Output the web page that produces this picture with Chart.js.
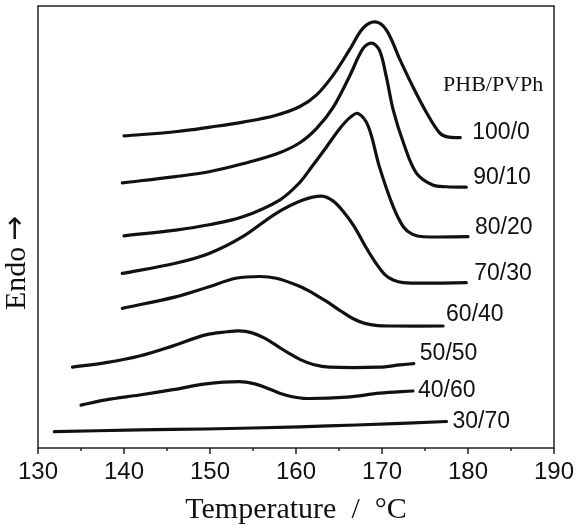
<!DOCTYPE html>
<html>
<head>
<meta charset="utf-8">
<script src="https://cdn.jsdelivr.net/npm/chart.js@4/dist/chart.umd.min.js"></script>
<style>
body { margin: 0; background: #fff; }
</style>
</head>
<body>
<canvas id="myChart" width="582" height="526"></canvas>
<script>
'use strict';

// DSC traces, temperature in degC, heat flow in arbitrary units (shifted)
var blends = ['100/0', '90/10', '80/20', '70/30', '60/40', '50/50', '40/60', '30/70'];

var t100 = [140.0, 146.2, 150.0, 154.0, 157.7, 160.4, 162.4, 164.3, 166.2, 167.8, 169.2, 170.5, 172.1, 173.6, 175.2, 176.7, 177.6, 179.1];
var v100 = [70.6, 71.6, 72.6, 73.8, 75.3, 77.2, 79.9, 84.3, 90.0, 95.0, 96.4, 94.6, 87.8, 81.7, 75.8, 71.3, 70.4, 70.2];

var t90 = [139.8, 146.0, 149.9, 153.8, 157.7, 160.4, 162.4, 164.3, 166.2, 167.8, 168.8, 169.7, 170.5, 171.3, 172.5, 174.0, 175.9, 177.5, 179.8];
var v90 = [60.0, 61.4, 62.5, 64.3, 66.5, 69.0, 72.3, 77.0, 84.0, 90.4, 91.6, 90.0, 84.0, 76.5, 69.0, 62.2, 59.5, 59.1, 59.0];

var t80 = [140.0, 146.0, 149.9, 153.8, 158.1, 160.4, 161.9, 163.5, 165.1, 166.3, 167.2, 168.4, 169.7, 171.3, 172.5, 173.5, 174.8, 180.0];
var v80 = [48.0, 49.3, 50.5, 52.3, 56.1, 60.0, 63.8, 68.0, 72.3, 74.8, 75.7, 72.8, 63.6, 54.6, 50.0, 48.4, 47.8, 47.8];

var t70 = [139.8, 146.0, 149.9, 153.8, 157.7, 160.8, 163.0, 164.3, 165.5, 166.7, 168.2, 169.3, 170.3, 171.3, 172.5, 175.9, 179.8];
var v70 = [39.5, 41.8, 44.0, 47.8, 53.1, 56.1, 57.0, 55.9, 53.5, 50.3, 45.2, 41.8, 39.3, 38.0, 37.4, 37.3, 37.4];

var t60 = [139.8, 146.0, 149.9, 153.0, 155.8, 157.7, 160.4, 162.0, 163.6, 165.2, 166.6, 168.0, 169.5, 171.0, 177.1];
var v60 = [31.6, 34.2, 36.5, 38.4, 38.8, 38.4, 36.6, 35.0, 33.1, 31.0, 29.3, 28.2, 27.7, 27.6, 27.6];

var t50 = [134.0, 137.9, 141.8, 145.7, 149.5, 152.0, 153.4, 154.8, 156.3, 157.8, 159.2, 160.5, 162.0, 163.9, 169.7, 172.1, 173.7];
var v50 = [18.3, 19.3, 20.8, 23.1, 25.6, 26.3, 26.5, 26.1, 24.9, 23.1, 21.4, 20.0, 18.9, 18.3, 18.3, 18.8, 19.1];

var t40 = [135.0, 137.9, 141.8, 145.7, 149.5, 153.4, 155.2, 156.6, 158.1, 159.6, 161.2, 165.9, 169.7, 173.6];
var v40 = [9.7, 10.9, 12.0, 13.2, 14.5, 15.0, 14.5, 13.6, 12.4, 11.6, 11.2, 11.5, 12.4, 12.9];

var t30 = [131.9, 141.8, 149.5, 160.4, 167.0, 177.5];
var v30 = [3.7, 4.1, 4.3, 4.8, 5.2, 6.0];

var xTicks = [130, 140, 150, 160, 170, 180, 190];

var temps = [t100, t90, t80, t70, t60, t50, t40, t30];
var vals = [v100, v90, v80, v70, v60, v50, v40, v30];

// label offsets from the end of each trace, px
var labelShift = [[12, -5], [7, -10], [7, -9], [8, -9], [3, -11], [6, -10], [5, 0], [6, 0]];

function pts(t, v) {
    return t.map(function (x, i) { return { x: x, y: v[i] }; });
}

var datasets = blends.map(function (name, i) {
    return {
        label: name,
        data: pts(temps[i], vals[i]),
        borderColor: '#111',
        borderWidth: 3.2,
        pointRadius: 0,
        fill: false,
        tension: 0.35,
        borderCapStyle: 'round',
        borderJoinStyle: 'round'
    };
});

var frame = {
    id: 'frame',
    afterDraw: function (chart) {
        var c = chart.ctx, a = chart.chartArea, xs = chart.scales.x, ys = chart.scales.y;
        c.save();
        c.strokeStyle = '#222';
        c.lineWidth = 1.5;
        c.strokeRect(a.left, a.top, a.right - a.left, a.bottom - a.top);
        // ticks, long at tens, short at fives
        c.beginPath();
        for (var t = 130; t <= 190; t += 5) {
            var px = xs.getPixelForValue(t);
            c.moveTo(px, a.bottom);
            c.lineTo(px, a.bottom + (t % 10 === 0 ? 6 : 3));
        }
        c.stroke();

        c.fillStyle = '#111';
        // curve labels
        c.font = '23px "Liberation Sans", Arial, sans-serif';
        c.textAlign = 'left';
        c.textBaseline = 'middle';
        chart.data.datasets.forEach(function (ds, i) {
            var els = chart.getDatasetMeta(i).data;
            var last = els[els.length - 1];
            c.fillText(ds.label, last.x + labelShift[i][0], last.y + labelShift[i][1]);
        });
        c.font = '22px "Liberation Serif", "Times New Roman", serif';
        c.fillText('PHB/PVPh', xs.getPixelForValue(177.1), ys.getPixelForValue(82.1));

        // axis titles
        c.font = '30px "Liberation Serif", "Times New Roman", serif';
        c.textAlign = 'center';
        c.textBaseline = 'alphabetic';
        c.fillText('Temperature  /  \u00B0C', (a.left + a.right) / 2, 518);
        c.translate(25, 262);
        c.rotate(-Math.PI / 2);
        c.textAlign = 'left';
        c.fillText('Endo', -48, 0);
        c.font = '30px "DejaVu Sans", sans-serif';
        c.fillText('\u2192', 21, -1);
        c.restore();
    }
};

var ctx = document.getElementById('myChart').getContext('2d');
var myChart = new Chart(ctx, {
    type: 'line',
    data: { datasets: datasets },
    options: {
        responsive: false,
        animation: false,
        devicePixelRatio: 1,
        layout: { padding: { top: 6, right: 28, left: 0, bottom: 0 } },
        plugins: { legend: { display: false }, tooltip: { enabled: false } },
        scales: {
            x: {
                type: 'linear',
                min: 130,
                max: 190,
                afterBuildTicks: function (scale) {
                    scale.ticks = xTicks.map(function (v) { return { value: v }; });
                },
                afterFit: function (scale) { scale.height = 78; },
                ticks: {
                    font: { family: '"Liberation Sans", Arial, sans-serif', size: 24 },
                    color: '#111',
                    maxRotation: 0,
                    autoSkip: false,
                    padding: 2
                },
                grid: { display: false, drawOnChartArea: false },
                border: { display: false }
            },
            y: {
                min: 0,
                max: 100,
                ticks: { display: false },
                grid: { display: false },
                border: { display: false },
                afterFit: function (scale) { scale.width = 38; }
            }
        }
    },
    plugins: [frame]
});
</script>
</body>
</html>
